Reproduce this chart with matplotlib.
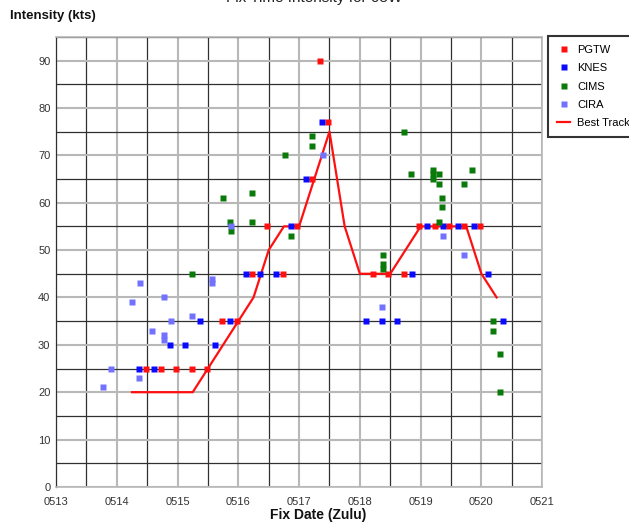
import matplotlib
matplotlib.use("Agg")
import matplotlib.pyplot as plt
from matplotlib.ticker import MultipleLocator, FixedLocator

plt.rcParams['font.family'] = ['Liberation Sans Narrow', 'Liberation Sans', 'DejaVu Sans']

# fix times as day of month (13.0 = 0513 00Z), intensities in kts
pgtw_x = [14.48, 14.73, 14.98, 15.23, 15.48, 15.73, 15.98, 16.22, 16.48, 16.73, 16.97,
          17.22, 17.35, 17.48, 18.22, 18.47, 18.72, 18.97, 19.23, 19.47, 19.72, 19.98]
pgtw_y = [25, 25, 25, 25, 25, 35, 35, 45, 55, 45, 55, 65, 90, 77, 45, 45, 45, 55, 55, 55, 55, 55]

knes_x = [14.37, 14.62, 14.87, 15.12, 15.37, 15.62, 15.86, 16.12, 16.36, 16.62, 16.86, 17.12,
          17.37, 18.10, 18.37, 18.61, 18.85, 19.11, 19.36, 19.61, 19.87, 20.11, 20.36]
knes_y = [25, 25, 30, 30, 35, 30, 35, 45, 45, 45, 55, 65, 77, 35, 35, 35, 45, 55, 55, 55, 55, 45, 35]

cims_x = [15.23, 15.75, 15.86, 15.88, 16.22, 16.22, 16.76, 16.87, 17.21, 17.21, 18.38, 18.38,
          18.38, 18.72, 18.84, 19.20, 19.20, 19.20, 19.31, 19.31, 19.35, 19.35, 19.31, 19.72,
          19.84, 20.19, 20.19, 20.30, 20.30]
cims_y = [45, 61, 56, 54, 62, 56, 70, 53, 74, 72, 49, 47, 46, 75, 66, 67, 66, 65, 66, 64, 61,
          59, 56, 64, 67, 35, 33, 28, 20]

cira_x = [13.77, 13.90, 14.25, 14.37, 14.38, 14.58, 14.77, 14.77, 14.77, 14.89, 15.23, 15.56,
          15.56, 15.88, 17.39, 18.37, 19.36, 19.72]
cira_y = [21, 25, 39, 23, 43, 33, 40, 32, 31, 35, 36, 44, 43, 55, 70, 38, 53, 49]

best_x = [14.25, 15.25, 15.5, 16.0, 16.25, 16.5, 16.75, 17.0, 17.5, 17.75, 18.0, 18.5,
          19.0, 19.75, 20.0, 20.25]
best_y = [20, 20, 25, 35, 40, 50, 55, 55, 75, 55, 45, 45, 55, 55, 45, 40]

day_labels = ['0513', '0514', '0515', '0516', '0517', '0518', '0519', '0520', '0521']

fig = plt.figure(figsize=(6.29, 5.27), dpi=100)
ax = fig.add_axes([0.089, 0.076, 0.773, 0.854])

ms = 4.3
ax.plot(pgtw_x, pgtw_y, 's', color='#ff1010', ms=ms, mec='none', label='PGTW', zorder=4)
ax.plot(knes_x, knes_y, 's', color='#0a0aff', ms=ms, mec='none', label='KNES', zorder=4)
ax.plot(cims_x, cims_y, 's', color='#0a7a0a', ms=ms, mec='none', label='CIMS', zorder=4)
ax.plot(cira_x, cira_y, 's', color='#7272ff', ms=ms, mec='none', label='CIRA', zorder=4)
ax.plot(best_x, best_y, '-', color='#ff1010', lw=1.6, label='Best Track', zorder=3)

ax.set_xlim(13, 21)
ax.set_ylim(0, 95)
ax.xaxis.set_minor_locator(MultipleLocator(0.5))
ax.yaxis.set_major_locator(FixedLocator(range(0, 91, 10)))
ax.yaxis.set_minor_locator(MultipleLocator(5))
ax.set_xticks(range(13, 22))
ax.set_xticklabels(day_labels, fontsize=8, color='#333333')
ax.set_yticklabels([str(v) for v in range(0, 91, 10)], fontsize=8, color='#333333')
ax.tick_params(which='both', length=0)
ax.tick_params(axis='x', pad=7)
ax.tick_params(axis='y', pad=4)

ax.grid(which='major', color='#b8b8b8', lw=1.5)
ax.grid(which='minor', color='#303030', lw=0.9)
ax.set_axisbelow(True)
for s in ax.spines.values():
    s.set_color('#b8b8b8')
    s.set_linewidth(1.2)
ax.spines['left'].set_color('#303030')
ax.spines['left'].set_linewidth(0.9)

# title sits at the very top edge, partly cut off as in the original
fig.text(0.5, 1.0 + 2 / 527, 'Fix Time Intensity for 03W', ha='center', va='center',
         fontsize=11, color='#222222')
fig.text(10 / 629, 1 - 16 / 527, 'Intensity (kts)', ha='left', va='center',
         fontsize=9.5, fontweight='bold', color='#111111')
fig.text(318 / 629, 1 - 515 / 527, 'Fix Date (Zulu)', ha='center', va='center',
         fontsize=10, fontweight='bold', color='#111111')

leg = fig.legend(loc='upper left', bbox_to_anchor=(548 / 629, 1 - 36 / 527),
                 fontsize=8, frameon=True, fancybox=False, borderaxespad=0,
                 handlelength=1.2, handletextpad=0.6, labelspacing=0.75,
                 borderpad=0.8, markerscale=1.0)
leg.get_frame().set_edgecolor('black')
leg.get_frame().set_linewidth(1.5)
leg.get_frame().set_facecolor('white')

fig.savefig('out.png', dpi=100)
